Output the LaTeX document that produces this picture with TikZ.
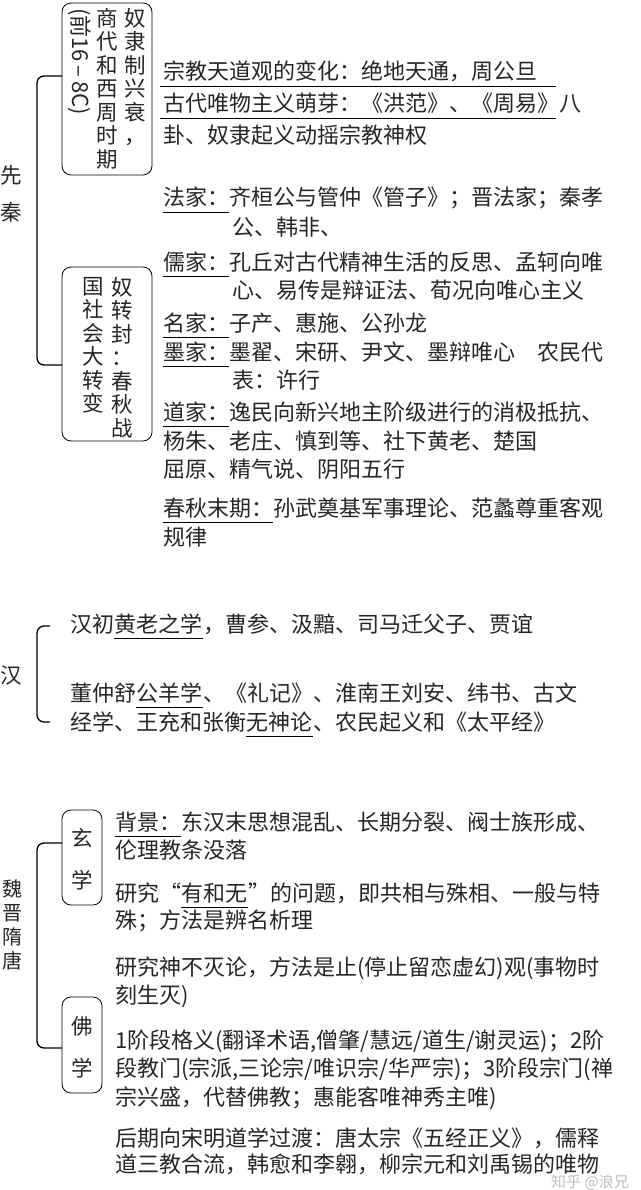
\documentclass[tikz,border=0pt]{standalone}
\usepackage{fontspec}
\setmainfont{Noto Sans CJK SC}
\newcommand{\tightls}{\lineskiplimit=-100pt\relax\lineskip=0pt\relax}
\begin{document}
\begin{tikzpicture}[x=1pt,y=-1pt,
  t/.style={inner sep=0pt,anchor=base west,font=\fontsize{22}{28}\selectfont,text=black!85},
  vt/.style={inner sep=0pt,align=center,font=\fontsize{21.5}{23.5}\selectfont\tightls,text=black!85},
  bx/.style={draw,rounded corners=9pt,line width=0.8pt},
  br/.style={line width=1.3pt,rounded corners=7pt},
  ul/.style={line width=0.7pt}]
\useasboundingbox[fill=white] (0,0) rectangle (640,1190);
\newcommand{\U}[1]{\draw[ul] ([yshift=-6pt]#1.base west) -- ([yshift=-6pt]#1.base east);}
% ---------- 先秦 ----------
\node[vt] (xian) at (11,175) {先};
\node[vt] (qin) at (11,212) {秦};
\draw[bx] (62,3) rectangle (152,175);
\node[vt,anchor=north] (b1a) at (135,8) {奴\\隶\\制\\兴\\衰\\，};
\node[vt,anchor=north] (b1b) at (107,8) {商\\代\\和\\西\\周\\时\\期};
\node[inner sep=0pt,rotate=-90,anchor=west,font=\fontsize{22}{25}\selectfont,text=black!85] (b1c) at (80,8) {(前16\,–\,8C)};
\draw[bx] (62,267) rectangle (152,441);
\node[vt,anchor=north] (b2a) at (122,277) {奴\\转\\封\\：\\春\\秋\\战};
\node[vt,anchor=north] (b2b) at (93,277) {国\\社\\会\\大\\转\\变};
\draw[br] (62,76) -- (37,76) -- (37,365) -- (62,365);
% lines
\node[t] (a1) at (163,80) {宗教天道观的变化：};
\node[t] (a1b) at (a1.base east) {绝地天通，周公旦};
\node[t] (a2) at (163,112) {古代唯物主义萌芽：};
\node[t] (a2b) at (a2.base east) {《洪范》、《周易》八};
\node[t] (a3) at (163,144) {卦、奴隶起义动摇宗教神权};
\draw[ul] (160,86) -- (556,86);
\draw[ul] (160,118) -- (556,118);
\node[t] (f1) at (163,206) {法家：};
\node[t] (f1b) at (f1.base east) {齐桓公与管仲《管子》；晋法家；秦孝};
\node[t] (f2) at (232,236) {公、韩非、};
\U{f1}
\node[t] (r1) at (163,270) {儒家：};
\node[t] (r1b) at (r1.base east) {孔丘对古代精神生活的反思、孟轲向唯};
\node[t] (r2) at (232,298) {心、易传是辩证法、荀况向唯心主义};
\U{r1}
\node[t] (m1) at (163,331) {名家：};
\node[t] (m1b) at (m1.base east) {子产、惠施、公孙龙};
\U{m1}
\node[t] (mo1) at (163,360) {墨家：};
\node[t] (mo1b) at (mo1.base east) {墨翟、宋研、尹文、墨辩唯心\quad 农民代};
\node[t] (mo2) at (232,388) {表：许行};
\U{mo1}
\node[t] (d1) at (163,420) {道家：};
\node[t] (d1b) at (d1.base east) {逸民向新兴地主阶级进行的消极抵抗、};
\node[t] (d2) at (163,449) {杨朱、老庄、慎到等、社下黄老、楚国};
\node[t] (d3) at (163,477) {屈原、精气说、阴阳五行};
\U{d1}
\node[t] (c1) at (163,516) {春秋末期：};
\node[t] (c1b) at (c1.base east) {孙武奠基军事理论、范蠡尊重客观};
\node[t] (c2) at (163,545) {规律};
\U{c1}
% ---------- 汉 ----------
\node[vt] (han) at (11,675) {汉};
\draw[br] (50,626) -- (37,626) -- (37,722) -- (50,722);
\node[t] (h1) at (70,632) {汉初};
\node[t] (h1b) at (h1.base east) {黄老之学};
\node[t] (h1c) at (h1b.base east) {，曹参、汲黯、司马迁父子、贾谊};
\U{h1b}
\node[t] (h2) at (70,701) {董仲舒};
\node[t] (h2b) at (h2.base east) {公羊学};
\node[t] (h2c) at (h2b.base east) {、《礼记》、淮南王刘安、纬书、古文};
\U{h2b}
\node[t] (h3) at (70,730) {经学、王充和张衡};
\node[t] (h3b) at (h3.base east) {无神论};
\node[t] (h3c) at (h3b.base east) {、农民起义和《太平经》};
\U{h3b}
% ---------- 魏晋隋唐 ----------
\node[vt,font=\fontsize{20}{24}\selectfont] (wj) at (12,925) {魏\\晋\\隋\\唐};
\draw[br] (62,843) -- (37,843) -- (37,1048) -- (62,1048);
\draw[bx] (62,810) rectangle (102,905);
\node[vt] (xx1) at (82,838) {玄};
\node[vt] (xx2) at (82,880) {学};
\draw[bx] (62,997) rectangle (102,1093);
\node[vt] (fx1) at (82,1026) {佛};
\node[vt] (fx2) at (82,1068) {学};
\node[t] (w1) at (115,830) {背景：};
\node[t] (w1b) at (w1.base east) {东汉末思想混乱、长期分裂、阀士族形成、};
\U{w1}
\node[t] (w2) at (115,858) {伦理教条没落};
\node[t] (w3) at (115,901) {研究“};
\node[t] (w3b) at (w3.base east) {有和无};
\node[t] (w3c) at (w3b.base east) {”的问题，即共相与殊相、一般与特};
\U{w3b}
\node[t] (w4) at (115,928) {殊；方法是辨名析理};
\node[t] (w5) at (115,975) {研究神不灭论，方法是止(停止留恋虚幻)观(事物时};
\node[t] (w6) at (115,1003) {刻生灭)};
\node[t] (w7) at (115,1048) {1阶段格义(翻译术语,僧肇/慧远/道生/谢灵运)；2阶};
\node[t] (w8) at (115,1076) {段教门(宗派,三论宗/唯识宗/华严宗)；3阶段宗门(禅};
\node[t] (w9) at (115,1105) {宗兴盛，代替佛教；惠能客唯神秀主唯)};
\node[t] (w10) at (115,1146) {后期向宋明道学过渡：唐太宗《五经正义》，儒释};
\node[t] (w11) at (115,1172) {道三教合流，韩愈和李翱，柳宗元和刘禹锡的唯物};
\node[inner sep=0pt,font=\fontsize{15}{18}\selectfont,text=black!25] (wm) at (590,1182) {知乎 @浪兄};
\end{tikzpicture}
\end{document}
